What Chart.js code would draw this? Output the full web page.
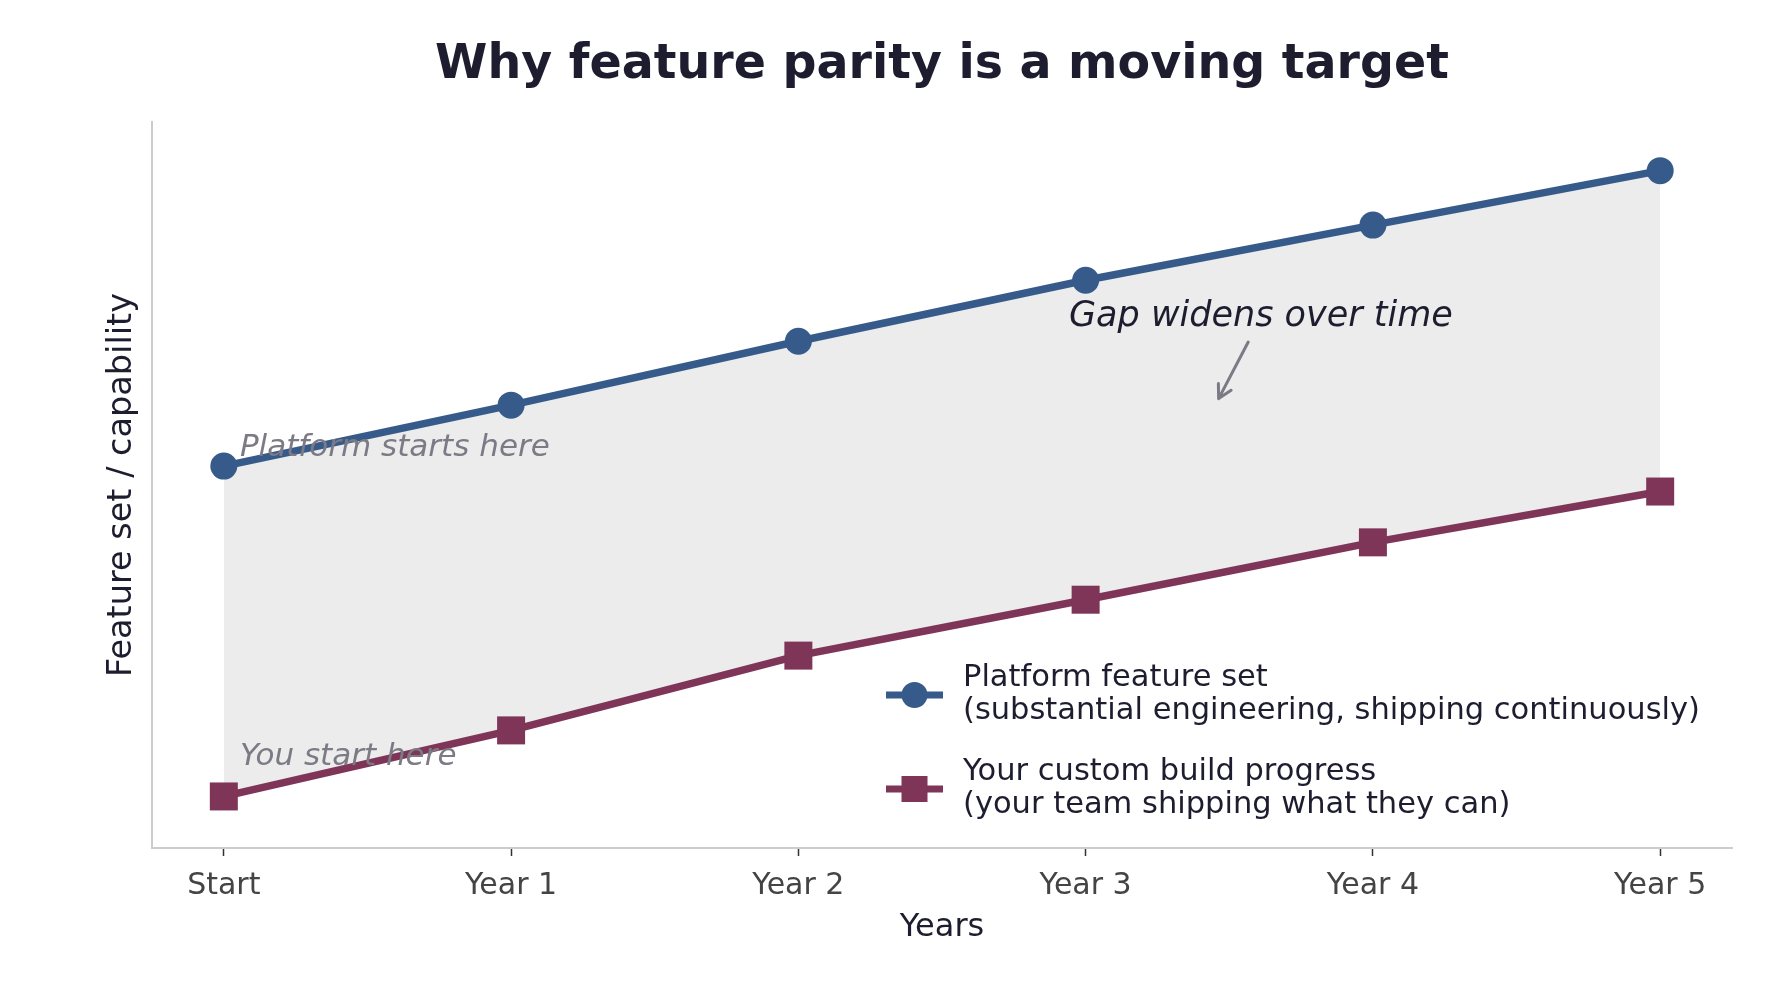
<!DOCTYPE html>
<html><head><meta charset="utf-8">
<script src="https://cdn.jsdelivr.net/npm/chart.js@4.4.1/dist/chart.umd.min.js"></script>
<style>html,body{margin:0;padding:0;background:#fff}#wrap{width:1785px;height:982px;position:relative}</style>
</head><body><div id="wrap"><canvas id="c"></canvas></div>
<script>
const categories = ['Start', 'Year 1', 'Year 2', 'Year 3', 'Year 4', 'Year 5'];
const platformValues = [52.6, 61.0, 69.8, 78.2, 85.8, 93.3];
const customValues = [7.1, 16.2, 26.5, 34.2, 42.1, 49.1];
const platformLegend = ['Platform feature set', '(substantial engineering, shipping continuously)'];
const customLegend = ['Your custom build progress', '(your team shipping what they can)'];
const titleText = 'Why feature parity is a moving target';
const xAxisTitle = 'Years';
const yAxisTitle = 'Feature set / capability';
const noteTexts = ['Platform starts here', 'You start here', 'Gap widens over time'];

const FONT = '"DejaVu Sans", "Liberation Sans", sans-serif';
const BLUE = '#365b8b';
const PLUM = '#7f3558';
const DARK = '#1d1d2f';
const GREY = '#7b7a85';

const toPts = arr => arr.map((v, i) => ({x: i, y: v}));

const extras = {
  id: 'extras',
  afterDatasetsDraw(chart) {
    const {ctx, chartArea, scales: {x, y}} = chart;
    ctx.save();
    // title
    ctx.fillStyle = DARK;
    ctx.font = 'bold 47.5px ' + FONT;
    ctx.textAlign = 'center';
    ctx.textBaseline = 'middle';
    ctx.fillText(titleText, (chartArea.left + chartArea.right) / 2, 66);

    // annotations
    ctx.textAlign = 'left';
    ctx.fillStyle = GREY;
    ctx.font = 'italic 31px ' + FONT;
    ctx.fillText(noteTexts[0], x.getPixelForValue(0.056), y.getPixelForValue(55.1));
    ctx.fillText(noteTexts[1], x.getPixelForValue(0.056), y.getPixelForValue(12.5));
    ctx.fillStyle = DARK;
    ctx.font = 'italic 35px ' + FONT;
    ctx.textAlign = 'center';
    ctx.fillText(noteTexts[2], x.getPixelForValue(3.61), y.getPixelForValue(73.1));

    // arrow
    const ax0 = x.getPixelForValue(3.566), ay0 = y.getPixelForValue(69.7);
    const ax1 = x.getPixelForValue(3.463), ay1 = y.getPixelForValue(61.9);
    ctx.strokeStyle = GREY;
    ctx.lineWidth = 3;
    ctx.lineCap = 'round';
    ctx.lineJoin = 'round';
    ctx.beginPath();
    ctx.moveTo(ax0, ay0); ctx.lineTo(ax1, ay1);
    const ang = Math.atan2(ay1 - ay0, ax1 - ax0);
    const hl = 15;
    ctx.moveTo(ax1 - hl * Math.cos(ang - 0.5), ay1 - hl * Math.sin(ang - 0.5));
    ctx.lineTo(ax1, ay1);
    ctx.lineTo(ax1 - hl * Math.cos(ang + 0.5), ay1 - hl * Math.sin(ang + 0.5));
    ctx.stroke();

    // legend
    const items = [
      {lines: platformLegend, color: BLUE, style: 'circle', cy: 695},
      {lines: customLegend, color: PLUM, style: 'rect', cy: 789}
    ];
    ctx.font = '30.5px ' + FONT;
    ctx.textAlign = 'left';
    ctx.textBaseline = 'middle';
    items.forEach(it => {
      ctx.strokeStyle = it.color;
      ctx.lineWidth = 7;
      ctx.lineCap = 'butt';
      ctx.beginPath();
      ctx.moveTo(886, it.cy); ctx.lineTo(943, it.cy);
      ctx.stroke();
      ctx.fillStyle = it.color;
      if (it.style === 'circle') {
        ctx.beginPath(); ctx.arc(914.5, it.cy, 13, 0, Math.PI * 2); ctx.fill();
      } else {
        ctx.fillRect(914.5 - 13, it.cy - 13, 26, 26);
      }
      ctx.fillStyle = DARK;
      ctx.fillText(it.lines[0], 963, it.cy - 17);
      ctx.fillText(it.lines[1], 963, it.cy + 16);
    });
    ctx.restore();
  }
};

Chart.defaults.font.family = FONT;

new Chart(document.getElementById('c'), {
  type: 'line',
  data: {
    datasets: [
      {
        label: platformLegend[0],
        data: toPts(platformValues),
        borderColor: BLUE,
        backgroundColor: '#ececec',
        borderWidth: 7.5,
        pointStyle: 'circle',
        pointRadius: 13.5,
        pointHoverRadius: 13.5,
        pointBackgroundColor: BLUE,
        pointBorderWidth: 0,
        fill: '+1',
        tension: 0
      },
      {
        label: customLegend[0],
        data: toPts(customValues),
        borderColor: PLUM,
        backgroundColor: PLUM,
        borderWidth: 7.5,
        pointStyle: 'rect',
        pointRadius: 19.8,
        pointHoverRadius: 19.8,
        pointBackgroundColor: PLUM,
        pointBorderWidth: 0,
        fill: false,
        tension: 0
      }
    ]
  },
  options: {
    responsive: true,
    maintainAspectRatio: false,
    animation: false,
    devicePixelRatio: 1,
    layout: {padding: {top: 122, right: 53, bottom: 0, left: 0}},
    plugins: {
      legend: {display: false},
      title: {display: false},
      tooltip: {enabled: false},
      filler: {drawTime: 'beforeDatasetsDraw'}
    },
    scales: {
      x: {
        type: 'linear',
        min: -0.25,
        max: 5.25,
        afterBuildTicks: s => { s.ticks = categories.map((c, i) => ({value: i})); },
        afterFit: s => { s.height = 134; },
        ticks: {
          callback: v => categories[v],
          color: '#444444',
          font: {size: 30},
          padding: 12,
          maxRotation: 0,
          autoSkip: false
        },
        grid: {drawOnChartArea: false, drawTicks: true, tickLength: 8, tickWidth: 1.5, tickColor: '#333333', color: '#333333'},
        border: {display: true, color: '#cccccc', width: 2},
        title: {display: true, text: xAxisTitle, color: DARK, font: {size: 32}, padding: {top: 0, bottom: 35}}
      },
      y: {
        type: 'linear',
        min: 0,
        max: 100,
        afterFit: s => { s.width = 152; },
        ticks: {display: false},
        grid: {display: false},
        border: {display: true, color: '#cccccc', width: 2},
        title: {display: true, text: yAxisTitle, color: DARK, font: {size: 33.5}, padding: {top: 102, bottom: 0}}
      }
    }
  },
  plugins: [extras]
});
</script>
</body></html>
